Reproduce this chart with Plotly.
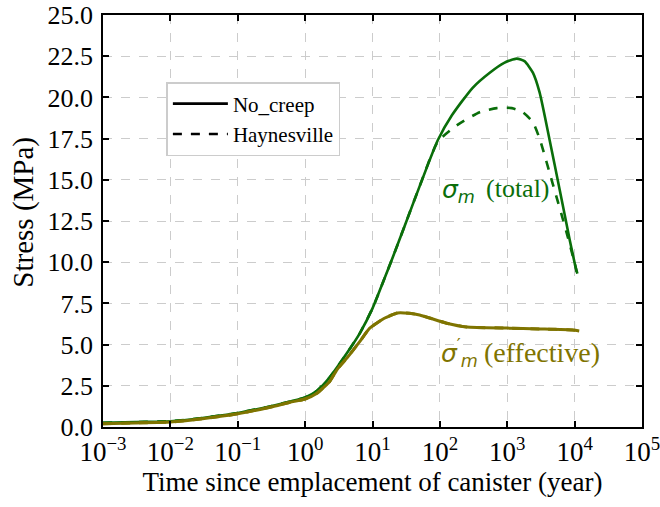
import plotly.graph_objects as go

# Mean stress histories (MPa) against time since canister emplacement (years)
t_total_nc = [1e-3, 3e-3, 1e-2, 3e-2, 1e-1, 0.3, 0.6, 1.0, 1.5, 2.3, 4.2, 6.5,
              10, 15, 20, 30, 50, 93, 150, 309, 550, 900, 1380, 1800, 2400, 3020,
              4260, 6000, 8500, 10700]
s_total_nc = [0.25, 0.3, 0.35, 0.55, 0.85, 1.25, 1.55, 1.8, 2.2, 3.0, 4.5, 5.7,
              7.2, 9.0, 10.3, 12.2, 14.6, 17.4, 18.9, 20.6, 21.5, 22.1, 22.35, 22.2,
              21.5, 20.3, 17.4, 14.4, 11.3, 9.4]

t_total_hv = [1e-3, 3e-3, 1e-2, 3e-2, 1e-1, 0.3, 0.6, 1.0, 1.5, 2.3, 4.2, 6.5,
              10, 15, 20, 30, 50, 93, 178, 390, 700, 1170, 1700, 2390, 3020,
              4700, 7600, 11000]
s_total_hv = [0.25, 0.3, 0.35, 0.55, 0.85, 1.25, 1.55, 1.8, 2.2, 3.0, 4.5, 5.7,
              7.2, 9.0, 10.3, 12.2, 14.6, 17.3, 18.3, 19.1, 19.35, 19.35, 19.1, 18.5,
              17.5, 14.8, 11.8, 9.3]

t_eff = [1e-3, 3e-3, 1e-2, 3e-2, 1e-1, 0.3, 0.6, 1.0, 1.5, 2.3, 3.0, 4.2, 6.5,
         9.1, 15, 23.5, 35, 50, 126, 250, 1000, 3000, 9300, 11700]
s_eff_nc = [0.2, 0.25, 0.3, 0.5, 0.8, 1.2, 1.5, 1.7, 2.05, 2.75, 3.5, 4.2, 5.2,
            6.0, 6.6, 6.92, 6.9, 6.8, 6.3, 6.07, 6.0, 5.95, 5.89, 5.83]
s_eff_hv = [0.2, 0.25, 0.3, 0.5, 0.8, 1.2, 1.5, 1.7, 2.05, 2.75, 3.5, 4.2, 5.2,
            6.0, 6.6, 6.92, 6.9, 6.8, 6.3, 6.07, 6.0, 5.95, 5.89, 5.83]

x_tickvals = [1e-3, 1e-2, 1e-1, 1e0, 1e1, 1e2, 1e3, 1e4, 1e5]
x_ticktext = ["10<sup>−3</sup>", "10<sup>−2</sup>", "10<sup>−1</sup>", "10<sup>0</sup>",
              "10<sup>1</sup>", "10<sup>2</sup>", "10<sup>3</sup>", "10<sup>4</sup>",
              "10<sup>5</sup>"]
y_tickvals = [0, 2.5, 5, 7.5, 10, 12.5, 15, 17.5, 20, 22.5, 25]
y_ticktext = ["0.0", "2.5", "5.0", "7.5", "10.0", "12.5", "15.0", "17.5", "20.0",
              "22.5", "25.0"]

GREEN = "#0a6e0a"
OLIVE = "#7f7400"
FONT = "Liberation Serif"
MATH = "DejaVu Sans"

fig = go.Figure()

fig.add_trace(go.Scatter(x=t_total_nc, y=s_total_nc, mode="lines", showlegend=False,
                         line=dict(color=GREEN, width=2.6, shape="spline", smoothing=0.6)))
fig.add_trace(go.Scatter(x=t_total_hv, y=s_total_hv, mode="lines", showlegend=False,
                         line=dict(color=GREEN, width=2.6, dash="dash", shape="spline",
                                   smoothing=0.6)))
fig.add_trace(go.Scatter(x=t_eff, y=s_eff_nc, mode="lines", showlegend=False,
                         line=dict(color=OLIVE, width=3, shape="spline", smoothing=0.5)))
fig.add_trace(go.Scatter(x=t_eff, y=s_eff_hv, mode="lines", showlegend=False,
                         line=dict(color=OLIVE, width=3, dash="dash", shape="spline",
                                   smoothing=0.5)))

# legend keys
fig.add_trace(go.Scatter(x=[None], y=[None], mode="lines", name="No_creep",
                         line=dict(color="black", width=2.6)))
fig.add_trace(go.Scatter(x=[None], y=[None], mode="lines", name="Haynesville",
                         line=dict(color="black", width=2.6, dash="dash")))

# plot area in pixels, used to place the curve labels
L, R, T, B = 102.5, 642.5, 15, 427
W, H = 660, 507


def px(xp, yp):
    return (xp - L) / (R - L), (B - yp) / (B - T)


def label(xp, yp, text, font, size, color, xanchor="left", angle=0):
    x, y = px(xp, yp)
    fig.add_annotation(x=x, y=y, xref="paper", yref="paper", xanchor=xanchor,
                       yanchor="middle", showarrow=False, text=text, textangle=angle,
                       font=dict(family=font, size=size, color=color))


# σ_m (total)
label(440, 191, "<i>σ</i><sub><i>m</i></sub>", MATH, 25, GREEN)
label(484, 188, "(total)", FONT, 26, GREEN)
# σ'_m (effective)
label(439, 353, "<i>σ</i><sup>′</sup><sub><i>m</i></sub>", MATH, 25, OLIVE)
label(482, 352, "(effective)", FONT, 28, OLIVE)
# y-axis title
label(22, 212, "Stress (MPa)", FONT, 29, "black", xanchor="center", angle=-90)

axis_common = dict(showline=True, linecolor="black", linewidth=1.6, mirror="ticks",
                   ticks="inside", ticklen=6, tickwidth=1.6, tickcolor="black",
                   showgrid=True, gridcolor="#cccccc", gridwidth=1.2, griddash="dash",
                   zeroline=False, automargin=False, ticklabeloverflow="allow")

fig.update_xaxes(type="log", range=[-3, 5], tickvals=x_tickvals, ticktext=x_ticktext,
                 tickfont=dict(family=FONT, size=27, color="black"),
                 title=dict(text="Time since emplacement of canister (year)",
                            font=dict(family=FONT, size=27, color="black"), standoff=0),
                 **axis_common)
fig.update_yaxes(range=[0, 25], tickvals=y_tickvals, ticktext=y_ticktext,
                 tickfont=dict(family=FONT, size=26, color="black"),
                 ticklabelstandoff=3,
                 **axis_common)

lx, ly = px(166, 82)
fig.update_layout(
    width=W, height=H,
    margin=dict(l=L, r=W - R, t=T, b=H - B, pad=0),
    paper_bgcolor="white", plot_bgcolor="white",
    font=dict(family=FONT, color="black"),
    legend=dict(x=lx, y=ly, xanchor="left", yanchor="top",
                bgcolor="white", bordercolor="#cccccc", borderwidth=1.5,
                font=dict(family=FONT, size=21, color="black"),
                itemwidth=55, tracegroupgap=0),
)

fig.write_html("out.html")
